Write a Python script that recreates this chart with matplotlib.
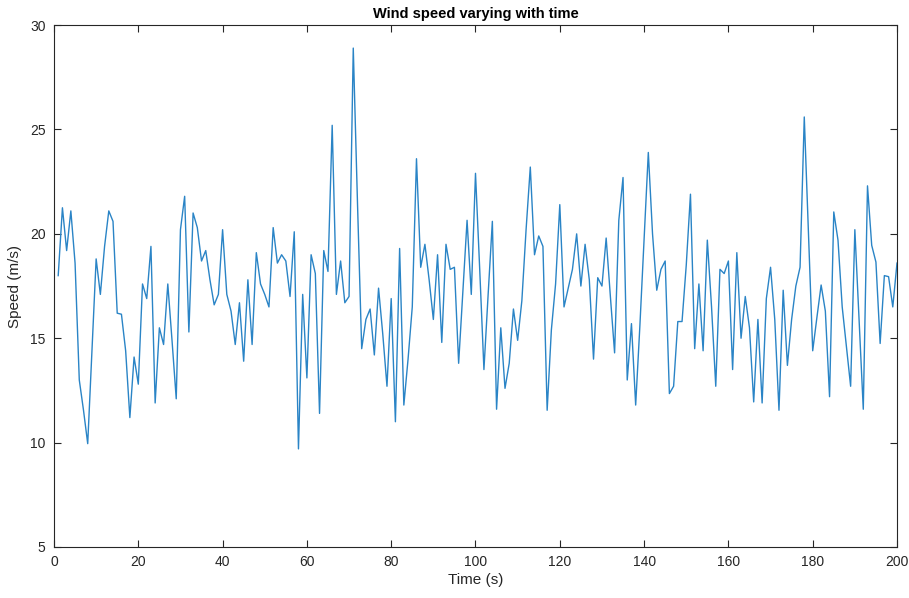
import numpy as np
import matplotlib
matplotlib.use("Agg")
import matplotlib.pyplot as plt

# time in seconds, one sample per second
time_s = np.arange(1, 201)

speed = [
    18.0, 21.25, 19.2, 21.1, 18.6, 13.0, 11.55, 9.95, 14.4, 18.8,
    17.1, 19.4, 21.1, 20.6, 16.2, 16.15, 14.4, 11.2, 14.1, 12.8,
    17.6, 16.9, 19.4, 11.9, 15.5, 14.7, 17.6, 14.9, 12.1, 20.2,
    21.8, 15.3, 21.0, 20.3, 18.7, 19.2, 17.8, 16.6, 17.1, 20.2,
    17.1, 16.3, 14.7, 16.7, 13.9, 17.8, 14.7, 19.1, 17.6, 17.1,
    16.5, 20.3, 18.6, 19.0, 18.7, 17.0, 20.1, 9.7, 17.1, 13.1,
    19.0, 18.1, 11.4, 19.2, 18.2, 25.2, 17.1, 18.7, 16.7, 17.0,
    28.9, 21.5, 14.5, 15.9, 16.4, 14.2, 17.4, 15.2, 12.7, 16.9,
    11.0, 19.3, 11.8, 14.0, 16.5, 23.6, 18.4, 19.5, 17.8, 15.9,
    19.0, 14.8, 19.5, 18.3, 18.4, 13.8, 17.2, 20.65, 17.1, 22.9,
    18.3, 13.5, 17.1, 20.6, 11.6, 15.5, 12.6, 13.8, 16.4, 14.9,
    16.8, 20.2, 23.2, 19.0, 19.9, 19.4, 11.55, 15.4, 17.6, 21.4,
    16.5, 17.4, 18.3, 20.0, 17.5, 19.5, 17.8, 14.0, 17.9, 17.5,
    19.8, 17.0, 14.3, 20.65, 22.7, 13.0, 15.7, 11.8, 15.6, 19.8,
    23.9, 20.0, 17.3, 18.3, 18.7, 12.35, 12.7, 15.8, 15.8, 18.5,
    21.9, 14.5, 17.6, 14.4, 19.7, 16.5, 12.7, 18.3, 18.1, 18.7,
    13.5, 19.1, 15.0, 17.0, 15.5, 11.95, 15.9, 11.9, 16.9, 18.4,
    15.9, 11.55, 17.3, 13.7, 15.9, 17.5, 18.4, 25.6, 20.0, 14.4,
    16.0, 17.55, 16.3, 12.2, 21.05, 19.7, 16.5, 14.6, 12.7, 20.2,
    15.9, 11.6, 22.3, 19.45, 18.65, 14.75, 18.0, 17.95, 16.5, 18.6,
]

axis_grey = "#262626"
plt.rcParams["font.family"] = ["Liberation Sans", "DejaVu Sans"]

fig = plt.figure(figsize=(9.09, 5.98), dpi=100)
ax = fig.add_axes([0.0594, 0.0853, 0.9274, 0.8727])

ax.plot(time_s, speed, color="#2a84c6", linewidth=1.0)

ax.set_xlim(0, 200)
ax.set_ylim(5, 30)
ax.set_xticks(np.arange(0, 201, 20))
ax.set_yticks(np.arange(5, 31, 5))

ax.tick_params(direction="in", length=5, width=0.8, top=True, right=True,
               colors=axis_grey, labelsize=10, pad=6)
for side in ax.spines.values():
    side.set_color(axis_grey)
    side.set_linewidth(0.8)

ax.set_title("Wind speed varying with time", fontsize=10.5,
             fontweight="bold", color="black", pad=5)
ax.set_xlabel("Time (s)", fontsize=11, color=axis_grey, labelpad=3)
ax.set_ylabel("Speed (m/s)", fontsize=11, color=axis_grey, labelpad=6)

fig.savefig("out.png", dpi=100)
